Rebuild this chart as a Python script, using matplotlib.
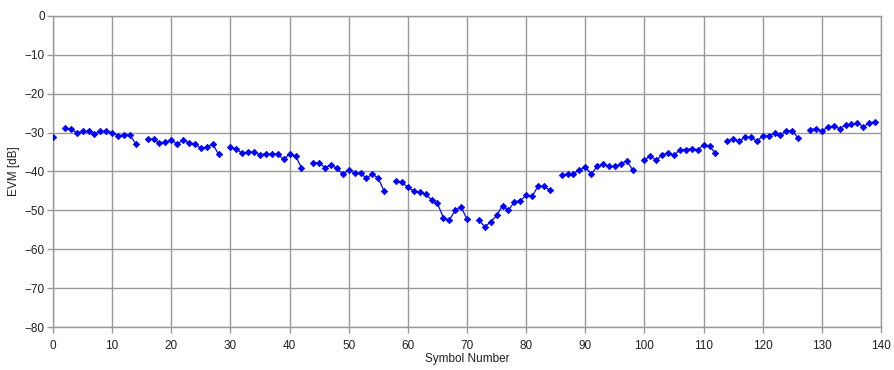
import numpy as np
import matplotlib.pyplot as plt

plt.rcParams["font.family"] = ["Liberation Sans", "DejaVu Sans"]

nan = np.nan

# EVM per symbol; symbols 1, 15, 29, ... are not measured
symbols = list(range(140))
evm_db = [
    -31.0, nan, -28.9, -29.1, -30.0, -29.7, -29.7, -30.3, -29.7, -29.7,
    -30.0, -30.8, -30.6, -30.6, -32.9, nan, -31.7, -31.7, -32.7, -32.4,
    -32.0, -32.9, -32.0, -32.6, -32.9, -34.0, -33.8, -32.9, -35.6, nan,
    -33.8, -34.3, -35.3, -35.0, -35.0, -35.7, -35.5, -35.5, -35.5, -36.9,
    -35.5, -36.0, -39.0, nan, -37.8, -37.8, -39.0, -38.3, -39.2, -40.7,
    -39.6, -40.4, -40.4, -41.8, -40.6, -41.8, -45.1, nan, -42.4, -42.8,
    -44.1, -45.0, -45.4, -45.8, -47.3, -48.2, -51.9, -52.5, -50.0, -49.1,
    -52.3, nan, -52.5, -54.2, -53.0, -51.3, -48.8, -50.0, -47.8, -47.5,
    -46.1, -46.4, -43.8, -43.8, -44.8, nan, -41.0, -40.6, -40.6, -39.6,
    -38.8, -40.7, -38.7, -38.1, -38.7, -38.7, -38.1, -37.2, -39.6, nan,
    -37.0, -36.1, -37.1, -35.7, -35.2, -35.8, -34.4, -34.4, -34.1, -34.5,
    -33.1, -33.5, -35.3, nan, -32.2, -31.6, -32.2, -31.2, -31.2, -32.2,
    -30.9, -30.9, -30.1, -30.7, -29.5, -29.5, -31.5, nan, -29.2, -29.0,
    -29.6, -28.6, -28.3, -29.0, -28.0, -27.9, -27.5, -28.5, -27.5, -27.2,
]

x_ticks = list(range(0, 141, 10))
y_ticks = list(range(-80, 1, 10))

fig = plt.figure(figsize=(8.94, 3.70), dpi=100)
ax = fig.add_axes([0.0593, 0.1162, 0.9262, 0.8406])

ax.plot(symbols, evm_db, color="#0000ff", linewidth=0.9,
        marker="D", markersize=3.2, markeredgewidth=0.6,
        markerfacecolor="#0000ff", markeredgecolor="#0000ff", zorder=3)

ax.set_xlim(0, 140)
ax.set_ylim(-80, 0)
ax.set_xticks(x_ticks)
ax.set_yticks(y_ticks)
ax.grid(True, color="#999999", linewidth=1.0, linestyle="-")
ax.set_axisbelow(True)

for s in ax.spines.values():
    s.set_color("#999999")
    s.set_linewidth(1.0)

ax.tick_params(direction="out", length=4, width=1, color="#999999",
               labelsize=8.5, labelcolor="#202020")
ax.tick_params(axis="x", pad=5)
ax.tick_params(axis="y", pad=2)

ax.set_xlabel("Symbol Number", fontsize=8.5, labelpad=1, color="#202020")
ax.set_ylabel("EVM [dB]", fontsize=8.5, labelpad=3, color="#202020")

fig.savefig("out.png", dpi=100, facecolor="white")
